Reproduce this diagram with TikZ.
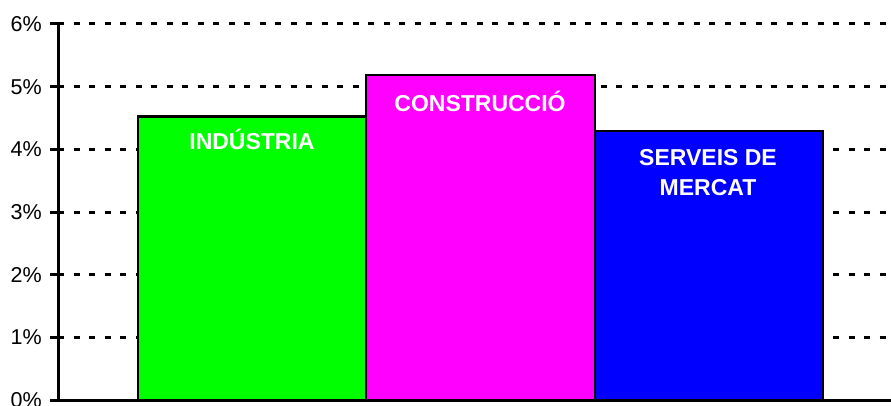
\documentclass[tikz,border=0pt]{standalone}
\usepackage{fontspec}
\setmainfont{Liberation Sans}
\usetikzlibrary{positioning}
\definecolor{indgreen}{RGB}{0,255,0}
\definecolor{conmagenta}{RGB}{255,0,255}
\definecolor{serblue}{RGB}{0,0,255}

\begin{document}
\begin{tikzpicture}[x=1pt, y=62.67pt,
    grid line/.style={line width=3pt, dash pattern=on 6pt off 9.5pt},
    axis line/.style={line width=3pt},
    bar/.style={draw=black, line width=2.5pt},
    tick label/.style={anchor=east, inner sep=0pt, font=\fontsize{21.5}{24}\selectfont},
    bar label/.style={anchor=base, inner sep=0pt, text=white, font=\bfseries\fontsize{23}{30}\selectfont}]
    \useasboundingbox (0,-0.08) rectangle (891,6.383);

    % Dashed grid lines, ticks and percent labels
    \foreach \v in {0,...,6} {
        \ifnum\v>0
            \draw[grid line] (58,\v) -- (891,\v);
        \fi
        \draw[axis line] (50,\v) -- (58,\v);
        \node[tick label] (tick\v) at (42,\v) {\v\%};
    }

    % Bars
    \draw[bar, fill=indgreen] (138,0) rectangle (366,4.52);
    \draw[bar, fill=conmagenta] (366,0) rectangle (595,5.19);
    \draw[bar, fill=serblue] (595,0) rectangle (823,4.29);

    % Axes
    \draw[axis line] (58,0) -- (58,6);
    \draw[axis line] (58,0) -- (891,0);

    % Sector labels
    \node[bar label] (ind) at (252,3.99) {INDÚSTRIA};
    \node[bar label] (con) at (480,4.61) {CONSTRUCCIÓ};
    \node[bar label] (ser) at (708,3.75) {SERVEIS DE};
    \node[bar label] (mer) at ([yshift=-30pt]ser.base) {MERCAT};

\end{tikzpicture}
\end{document}
